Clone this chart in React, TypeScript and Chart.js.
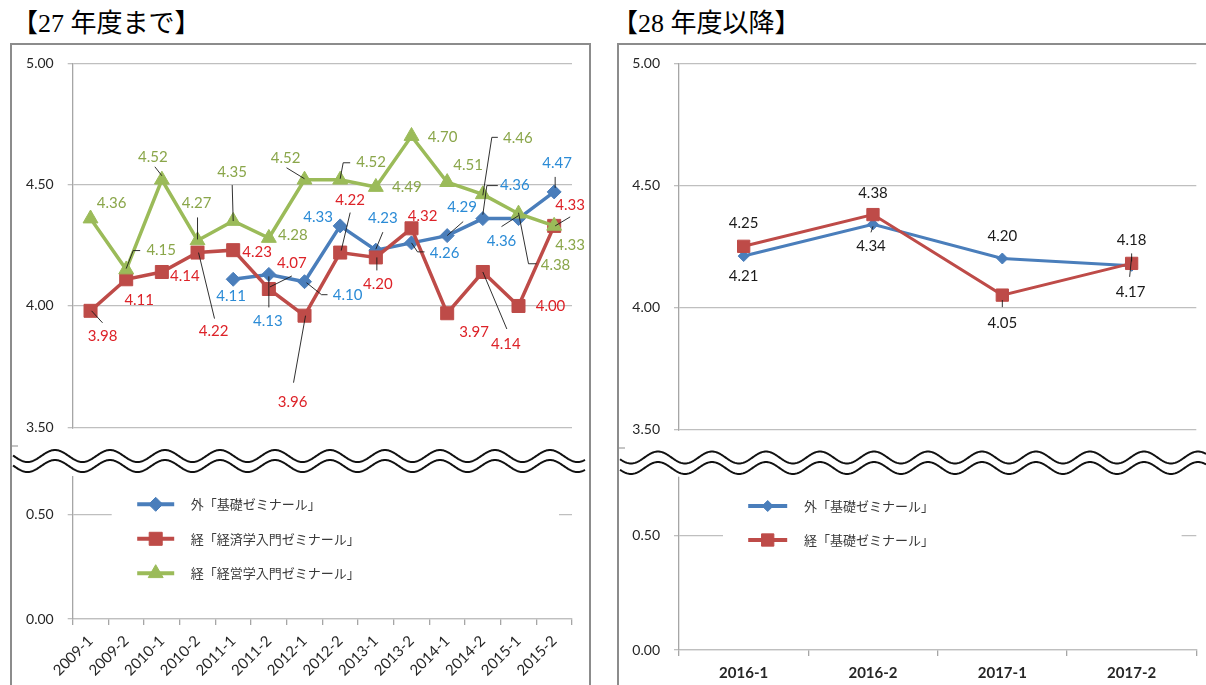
import React, { useEffect, useRef } from "react";
import { Chart, registerables } from "chart.js";
import { drawPoint } from "chart.js/helpers";

Chart.register(...registerables);

// ---------------- data ----------------
const leftCategories = ["2009-1", "2009-2", "2010-1", "2010-2", "2011-1", "2011-2", "2012-1", "2012-2", "2013-1", "2013-2", "2014-1", "2014-2", "2015-1", "2015-2"];
const leftGaiKiso = [null, null, null, null, 4.11, 4.13, 4.10, 4.33, 4.23, 4.26, 4.29, 4.36, 4.36, 4.47];
const leftKeiKeizai = [3.98, 4.11, 4.14, 4.22, 4.23, 4.07, 3.96, 4.22, 4.20, 4.32, 3.97, 4.14, 4.00, 4.33];
const leftKeiKeiei = [4.36, 4.15, 4.52, 4.27, 4.35, 4.28, 4.52, 4.52, 4.49, 4.70, 4.51, 4.46, 4.38, 4.33];

const rightCategories = ["2016-1", "2016-2", "2017-1", "2017-2"];
const rightGaiKiso = [4.21, 4.34, 4.20, 4.17];
const rightKeiKiso = [4.25, 4.38, 4.05, 4.18];

const upperTicks = [3.5, 4.0, 4.5, 5.0];
const lowerTicks = [0, 0.5];

const leftSeriesNames = ["外「基礎ゼミナール」", "経「経済学入門ゼミナール」", "経「経営学入門ゼミナール」"];
const rightSeriesNames = ["外「基礎ゼミナール」", "経「基礎ゼミナール」"];
const titles = ["【27 年度まで】", "【28 年度以降】"];

// ------------- data-label placement (offsets from each point, leader polylines) -------------
type LabelPos = { dx: number; dy: number; leader?: number[][] } | null;

const leftGaiKisoLabels: LabelPos[] = [
  null, null, null, null,
  { dx: -2, dy: 17 },
  { dx: -1, dy: 47, leader: [[0, 2], [0, 33]] },
  { dx: 43, dy: 13, leader: [[2, 1], [17, 13], [23, 13]] },
  { dx: -22, dy: -9 },
  { dx: 7, dy: -32, leader: [[0, -1], [7, -18]] },
  { dx: 33, dy: 10, leader: [[0, 0], [6, 9], [13, 9]] },
  { dx: 15, dy: -28, leader: [[0, 0], [16, -14]] },
  { dx: 32, dy: -33, leader: [[0, -4], [4, -33], [15, -33]] },
  { dx: -17, dy: 23, leader: [[0, -3], [-17, 8]] },
  { dx: 3, dy: -29, leader: [[1, -4], [1, -15]] },
];
const leftKeiKeizaiLabels: LabelPos[] = [
  { dx: 12, dy: 25, leader: [[1, 0], [12, 12]] },
  { dx: 13, dy: 21 },
  { dx: 23, dy: 4 },
  { dx: 16, dy: 79, leader: [[1, 0], [17, 66]] },
  { dx: 24, dy: 2 },
  { dx: 23, dy: -26, leader: [[1, -2], [23, -13]] },
  { dx: -12, dy: 86, leader: [[1, 0], [-11, 67]] },
  { dx: 10, dy: -52, leader: [[1, -2], [10, -40]] },
  { dx: 2, dy: 27, leader: [[1, 0], [1, 13]] },
  { dx: 11, dy: -12 },
  { dx: 27, dy: 19 },
  { dx: 23, dy: 72, leader: [[0, 0], [24, 57]] },
  { dx: 32, dy: 0 },
  { dx: 16, dy: -21, leader: [[1, 0], [16, -9]] },
];
const leftKeiKeieiLabels: LabelPos[] = [
  { dx: 21, dy: -15 },
  { dx: 35, dy: -19, leader: [[0, -1], [7, -19], [14, -19]] },
  { dx: -9, dy: -23, leader: [[-7, -13], [0, -4]] },
  { dx: -1, dy: -37, leader: [[0, -23], [0, -1]] },
  { dx: -1, dy: -49, leader: [[-1, -36], [0, 0]] },
  { dx: 24, dy: -3 },
  { dx: -19, dy: -22, leader: [[-18, -12], [0, -1]] },
  { dx: 31, dy: -18, leader: [[0, -1], [3, -17], [10, -17]] },
  { dx: 31, dy: 0 },
  { dx: 31, dy: 1 },
  { dx: 21, dy: -17 },
  { dx: 35, dy: -56, leader: [[0, 1], [9, -57], [15, -57]] },
  { dx: 37, dy: 51, leader: [[0, -1], [10, 50], [18, 50]] },
  { dx: 16, dy: 19 },
];
const rightGaiKisoLabels: LabelPos[] = [
  { dx: 0, dy: 20 },
  { dx: -2, dy: 22, leader: [[0, 2], [-2, 8]] },
  { dx: 0, dy: -22 },
  { dx: -1, dy: 26, leader: [[0, -9], [-2, 11]] },
];
const rightKeiKisoLabels: LabelPos[] = [
  { dx: 0, dy: -23 },
  { dx: 0, dy: -21 },
  { dx: 0, dy: 28, leader: [[0, 5], [0, 12]] },
  { dx: 0, dy: -23, leader: [[0, -10], [0, -2]] },
];

// ---------------- styles ----------------
const BLUE = "#4A7EBB";
const RED = "#BE4B48";
const GREEN = "#9BBB59";
const GRID = "#BFBFBF";
const AXIS = "#A6A6A6";

// ---------------- plugins ----------------
const labelPlugin = {
  id: "pointLabels",
  afterDatasetsDraw(chart: any, _a: any, o: any) {
    const ctx = chart.ctx;
    ctx.save();
    chart.data.datasets.forEach((ds: any, di: number) => {
      const layout: LabelPos[] = ds.labelLayout;
      if (!layout) return;
      const meta = chart.getDatasetMeta(di);
      ds.data.forEach((v: number | null, i: number) => {
        const L = layout[i];
        if (v == null || !L) return;
        const el = meta.data[i];
        const x = el.x;
        const y = el.y;
        if (L.leader) {
          ctx.beginPath();
          L.leader.forEach(([dx, dy], k) => (k ? ctx.lineTo(x + dx, y + dy) : ctx.moveTo(x + dx, y + dy)));
          ctx.strokeStyle = "#1A1A1A";
          ctx.lineWidth = 0.9;
          ctx.stroke();
        }
        ctx.fillStyle = ds.labelColor;
        ctx.font = o.font;
        ctx.textAlign = "center";
        ctx.textBaseline = "middle";
        ctx.fillText(v.toFixed(2), x + L.dx, y + L.dy);
      });
    });
    ctx.restore();
  },
};

const legendPlugin = {
  id: "boxLegend",
  afterDraw(chart: any, _a: any, o: any) {
    const ctx = chart.ctx;
    const area = chart.chartArea;
    const top = chart.scales.yLow.top;
    ctx.save();
    ctx.fillStyle = "#FFFFFF";
    const bx = area.left + o.boxLeft;
    ctx.fillRect(bx, top + o.boxTop, area.right - o.boxRight - bx, o.boxHeight);
    chart.data.datasets.forEach((ds: any, i: number) => {
      const cy = top + o.firstY + i * o.spacing;
      const cx = area.left + o.markerX;
      ctx.strokeStyle = ds.borderColor;
      ctx.lineWidth = 4;
      ctx.beginPath();
      ctx.moveTo(cx - o.lineHalf, cy);
      ctx.lineTo(cx + o.lineHalf, cy);
      ctx.stroke();
      ctx.fillStyle = ds.borderColor;
      ctx.lineWidth = 1;
      drawPoint(ctx, { pointStyle: ds.pointStyle, radius: ds.pointRadius, rotation: 0, borderWidth: 1 } as any, cx, cy);
      ctx.fillStyle = "#3A3A3A";
      ctx.font = "13px 'Noto Sans CJK JP'";
      ctx.textAlign = "left";
      ctx.textBaseline = "middle";
      ctx.fillText(ds.label, area.left + o.textX, cy);
    });
    ctx.restore();
  },
};

const breakPlugin = {
  id: "axisBreak",
  afterDraw(chart: any, _a: any, o: any) {
    const ctx = chart.ctx;
    const up = chart.scales.y;
    const low = chart.scales.yLow;
    const area = chart.chartArea;
    const B = up.bottom;
    const c1 = B + o.offset;
    const c2 = c1 + o.gap;
    const wy = (c: number, x: number) => c - o.amp * Math.cos((2 * Math.PI * (x - o.phase)) / o.period);
    ctx.save();
    ctx.fillStyle = "#FFFFFF";
    const y0 = up.getPixelForValue(up.ticks[0].value) + 1.5;
    ctx.fillRect(area.left - 2, y0, 4, low.top + o.lowAxisGap - y0);
    ctx.beginPath();
    for (let x = o.x0; x <= o.x1; x += 1) {
      const y = wy(c1, x);
      if (x === o.x0) ctx.moveTo(x, y);
      else ctx.lineTo(x, y);
    }
    for (let x = o.x1; x >= o.x0; x -= 1) ctx.lineTo(x, wy(c2, x));
    ctx.closePath();
    ctx.fill();
    ctx.strokeStyle = "#111111";
    ctx.lineWidth = 2;
    [c1, c2].forEach((c) => {
      ctx.beginPath();
      for (let x = o.x0; x <= o.x1; x += 1) {
        const y = wy(c, x);
        if (x === o.x0) ctx.moveTo(x, y);
        else ctx.lineTo(x, y);
      }
      ctx.stroke();
    });
    ctx.strokeStyle = AXIS;
    ctx.lineWidth = 1.3;
    ctx.beginPath();
    ctx.moveTo(0, B + o.stub);
    ctx.lineTo(6, B + o.stub);
    ctx.stroke();
    ctx.restore();
  },
};

// ---------------- config builder ----------------
function makeConfig(p: any) {
  const yScale = (min: number, max: number, ticks: number[], weight: number, stackWeight: number) => ({
    type: "linear",
    position: "left",
    stack: "v",
    stackWeight,
    weight,
    min,
    max,
    afterBuildTicks: (s: any) => {
      s.ticks = ticks.map((value) => ({ value }));
    },
    afterFit: (s: any) => {
      s.width = p.yWidth;
      s.paddingTop = 0;
      s.paddingBottom = 0;
    },
    grid: { color: GRID, lineWidth: 1.3, tickLength: 5, drawTicks: true },
    border: { display: true, color: AXIS, width: 1.3 },
    ticks: {
      padding: 14,
      color: "#262626",
      font: { family: "Lato", size: 14 },
      callback: (v: any) => Number(v).toFixed(2),
    },
  });
  return {
    type: "line",
    data: { labels: p.labels, datasets: p.datasets },
    options: {
      animation: false,
      responsive: false,
      maintainAspectRatio: false,
      events: [],
      layout: { padding: { top: p.padTop, right: p.padRight, left: 0, bottom: 0 } },
      scales: {
        x: {
          type: "category",
          offset: true,
          afterFit: (s: any) => {
            s.height = p.xHeight;
          },
          grid: { offset: true, drawOnChartArea: false, drawTicks: true, tickLength: 6, color: AXIS, lineWidth: 1.3 },
          border: { display: true, color: GRID, width: 1.3 },
          ticks: p.xTicks,
        },
        yLow: yScale(0, p.lowerMax, lowerTicks, 1, p.lowerWeight),
        y: yScale(p.upperMin, 5, upperTicks, 2, p.upperWeight),
      },
      plugins: {
        legend: { display: false },
        tooltip: { enabled: false },
        pointLabels: { font: p.labelFont },
        boxLegend: p.legend,
        axisBreak: p.brk,
      },
    },
    plugins: [labelPlugin, legendPlugin, breakPlugin],
  };
}

function leftConfig() {
  return makeConfig({
    labels: leftCategories,
    datasets: [
      {
        label: leftSeriesNames[0], data: leftGaiKiso, yAxisID: "y", order: 3,
        borderColor: BLUE, backgroundColor: BLUE, borderWidth: 3.5, tension: 0,
        pointStyle: "rectRot", pointRadius: 7, pointBorderWidth: 1, pointBackgroundColor: BLUE, pointBorderColor: BLUE,
        labelLayout: leftGaiKisoLabels, labelColor: "#2B8BD6",
      },
      {
        label: leftSeriesNames[1], data: leftKeiKeizai, yAxisID: "y", order: 2,
        borderColor: RED, backgroundColor: RED, borderWidth: 3.5, tension: 0,
        pointStyle: "rect", pointRadius: 9.2, pointBorderWidth: 1, pointBackgroundColor: RED, pointBorderColor: RED,
        labelLayout: leftKeiKeizaiLabels, labelColor: "#DD2228",
      },
      {
        label: leftSeriesNames[2], data: leftKeiKeiei, yAxisID: "y", order: 1,
        borderColor: GREEN, backgroundColor: GREEN, borderWidth: 3.5, tension: 0,
        pointStyle: "triangle", pointRadius: 8.6, pointBorderWidth: 1, pointBackgroundColor: GREEN, pointBorderColor: GREEN,
        labelLayout: leftKeiKeieiLabels, labelColor: "#8AA64A",
      },
    ],
    upperMin: 3.357,
    lowerMax: 0.75,
    upperWeight: 398.7,
    lowerWeight: 157,
    yWidth: 60.7,
    xHeight: 66,
    padTop: 18.3,
    padRight: 17,
    labelFont: "15px Lato",
    xTicks: {
      autoSkip: false, maxRotation: 45, minRotation: 45, padding: 7,
      color: "#262626", font: { family: "Lato", size: 15 },
    },
    legend: { boxLeft: 39, boxRight: 13, boxTop: 18, boxHeight: 112, markerX: 83, lineHalf: 18.5, textX: 118, firstY: 42.3, spacing: 34.5 },
    brk: { offset: -6, gap: 10, amp: 6, period: 55, phase: 43, x0: 1, x1: 573, lowAxisGap: 14, stub: -16 },
  });
}

function rightConfig() {
  return makeConfig({
    labels: rightCategories,
    datasets: [
      {
        label: rightSeriesNames[0], data: rightGaiKiso, yAxisID: "y", order: 2,
        borderColor: BLUE, backgroundColor: BLUE, borderWidth: 3, tension: 0,
        pointStyle: "rectRot", pointRadius: 5.5, pointBorderWidth: 1, pointBackgroundColor: BLUE, pointBorderColor: BLUE,
        labelLayout: rightGaiKisoLabels, labelColor: "#1A1A1A",
      },
      {
        label: rightSeriesNames[1], data: rightKeiKiso, yAxisID: "y", order: 1,
        borderColor: RED, backgroundColor: RED, borderWidth: 3, tension: 0,
        pointStyle: "rect", pointRadius: 8.7, pointBorderWidth: 1, pointBackgroundColor: RED, pointBorderColor: RED,
        labelLayout: rightKeiKisoLabels, labelColor: "#1A1A1A",
      },
    ],
    upperMin: 3.362,
    lowerMax: 0.82,
    upperWeight: 399.7,
    lowerWeight: 187,
    yWidth: 60,
    xHeight: 35,
    padTop: 18.3,
    padRight: 8.3,
    labelFont: "15px Lato",
    xTicks: {
      autoSkip: false, maxRotation: 0, minRotation: 0, padding: 8,
      color: "#262626", font: { family: "Lato", size: 15, weight: "bold" },
    },
    legend: { boxLeft: 44, boxRight: 14.7, boxTop: 18, boxHeight: 95, markerX: 88.7, lineHalf: 19.5, textX: 125, firstY: 43, spacing: 34 },
    brk: { offset: -5.5, gap: 10.5, amp: 6, period: 54, phase: 39, x0: 1, x1: 587, lowAxisGap: 13.7, stub: -15 },
  });
}

// ---------------- components ----------------
function PanelChart(props: { left: number; top: number; width: number; height: number; make: () => any }) {
  const ref = useRef<HTMLCanvasElement>(null);
  useEffect(() => {
    const chart = new Chart(ref.current as HTMLCanvasElement, props.make());
    return () => chart.destroy();
  }, []);
  return (
    <canvas
      ref={ref}
      width={props.width}
      height={props.height}
      style={{ position: "absolute", left: props.left, top: props.top, width: props.width, height: props.height }}
    />
  );
}

const titleStyle = (left: number): React.CSSProperties => ({
  position: "absolute",
  left,
  top: 11,
  fontSize: 26,
  lineHeight: "26px",
  fontFamily: "'Liberation Serif', 'Noto Sans CJK JP', serif",
  color: "#000",
  whiteSpace: "nowrap",
});

export default function App() {
  return (
    <div style={{ position: "absolute", left: 0, top: 0, width: 1206, height: 685, overflow: "hidden", background: "#fff" }}>
      <div style={titleStyle(12)}>{titles[0]}</div>
      <div style={titleStyle(612)}>{titles[1]}</div>
      <div style={{ position: "absolute", left: 10, top: 43, width: 577, height: 700, border: "2px solid #8C8C8C" }} />
      <div style={{ position: "absolute", left: 617, top: 43, width: 700, height: 700, border: "2px solid #8C8C8C" }} />
      <PanelChart left={12} top={45} width={577} height={640} make={leftConfig} />
      <PanelChart left={619} top={45} width={587} height={640} make={rightConfig} />
    </div>
  );
}
